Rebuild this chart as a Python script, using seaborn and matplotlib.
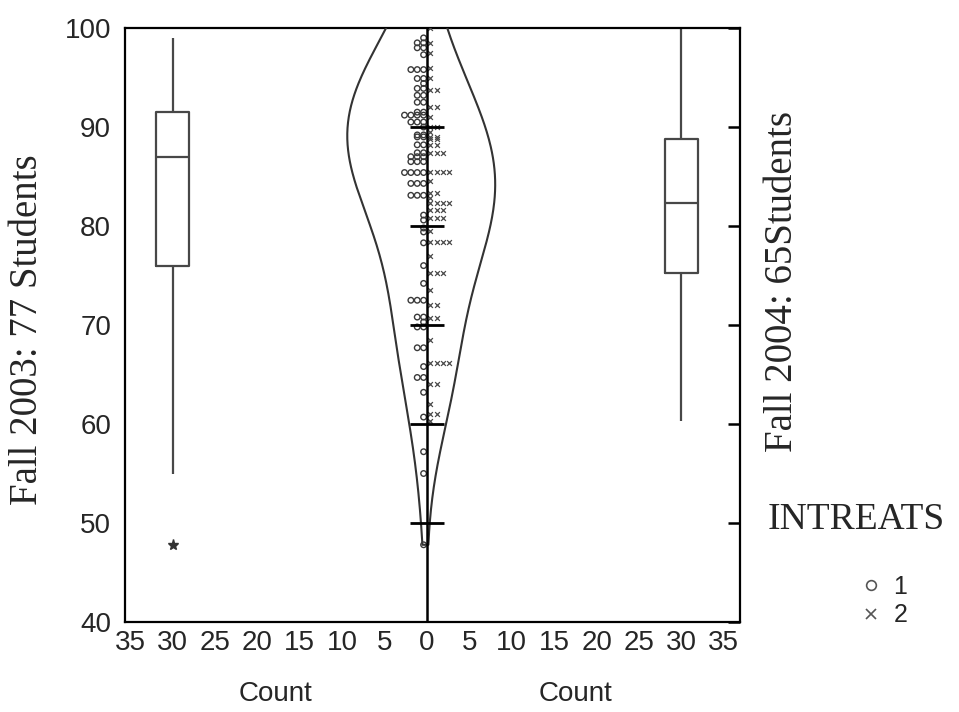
import numpy as np
import pandas as pd
import matplotlib
matplotlib.use("Agg")
import matplotlib.pyplot as plt
import seaborn as sns
from matplotlib.lines import Line2D

# ---------------- data ----------------
# Fall 2003 (INTREATS 1): exam score and number of students at that score
scores_2003 = [99, 98.5, 98, 97.3, 95.8, 94.9, 94.4, 93.9, 93.2, 92.5, 91.5,
               91.2, 90.5, 90, 89.2, 89, 88.2, 87.4, 87,
               86.5, 85.4, 84.3, 83.1, 81.1, 80.6, 79.8, 79.4, 78.3, 76,
               74.2, 72.5, 70.8, 70.3, 69.8, 67.7, 65.8, 64.7, 63.2, 60.7, 57.2, 55, 47.8]
counts_2003 = [1, 2, 2, 1, 3, 2, 1, 2, 2, 2, 2,
               4, 3, 1, 2, 2, 2, 2, 3,
               3, 4, 3, 3, 1, 1, 1, 1, 1, 1,
               1, 3, 2, 1, 2, 2, 1, 2, 1, 1, 1, 1, 1]
# Fall 2004 (INTREATS 2)
scores_2004 = [100, 98.5, 97.5, 96, 95, 93.7, 92, 91, 90, 89.5, 89, 88.8,
               88.2, 87.4, 85.5, 84.5, 83.3, 82.8, 82.3,
               81.6, 80.8, 79.5, 78.4, 77, 75.3,
               73.5, 72, 70.7, 68.5, 66.2, 64, 62, 61, 60.3]
counts_2004 = [1, 1, 1, 1, 1, 2, 2, 1, 2, 1, 2, 2,
               2, 3, 4, 1, 2, 1, 4,
               3, 3, 1, 4, 1, 3,
               1, 2, 2, 1, 4, 2, 1, 2, 1]

terms = ["Fall 2003", "Fall 2004"]
box_positions = [-30, 30]          # where each term's box plot sits on the Count axis
x_ticks = list(range(-35, 36, 5))
y_ticks = [40, 50, 60, 70, 80, 90, 100]
legend_labels = ["1", "2"]

# ---------------- style ----------------
sns.set_style("white")
plt.rcParams["font.family"] = ["Liberation Sans", "DejaVu Sans"]
SANS = 20
SERIF = ["Liberation Serif", "DejaVu Serif"]
GREY = "#474747"
BIN = 3.7          # count-units per unit density*n for the outline
BW_ADJUST = 1.5
DOT0, DOT_STEP = 0.4, 0.75

raw_2003 = np.repeat(scores_2003, counts_2003)
raw_2004 = np.repeat(scores_2004, counts_2004)
df = pd.DataFrame({
    "score": np.concatenate([raw_2003, raw_2004]),
    "pos": [box_positions[0]] * len(raw_2003) + [box_positions[1]] * len(raw_2004),
})

fig = plt.figure(figsize=(9.59, 7.12), dpi=100)
ax = fig.add_axes([125 / 959, 1 - 622 / 712, (740 - 125) / 959, (622 - 28) / 712])

# box plots
sns.boxplot(data=df, x="pos", y="score", native_scale=True, orient="x",
            width=3.8 / 60, fill=False, color=GREY, linewidth=1.6, showcaps=False,
            flierprops=dict(marker="*", markersize=8, markerfacecolor="#333333",
                            markeredgecolor="#333333"), ax=ax)

# density outlines (mirrored: 2003 to the left, 2004 to the right)
def kde(values, grid):
    v = np.asarray(values, dtype=float)
    n = len(v)
    bw = BW_ADJUST * v.std(ddof=1) * n ** (-1 / 5)
    z = (grid[:, None] - v[None, :]) / bw
    return np.exp(-0.5 * z ** 2).sum(1) / (n * bw * np.sqrt(2 * np.pi))

low = min(raw_2003.min(), raw_2004.min())
for raw, side in [(raw_2003, -1), (raw_2004, 1)]:
    grid = np.linspace(low, 104, 300)
    half = kde(raw, grid) * len(raw) * BIN
    xs = np.concatenate([[0], side * half])
    ys = np.concatenate([[low], grid])
    ax.plot(xs, ys, color="#333333", lw=1.5, zorder=3)

# dot strips
lx, ly, rx, ry = [], [], [], []
for s, c in zip(scores_2003, counts_2003):
    for i in range(c):
        lx.append(-(DOT0 + DOT_STEP * i)); ly.append(s)
for s, c in zip(scores_2004, counts_2004):
    for i in range(c):
        rx.append(DOT0 + DOT_STEP * i); ry.append(s)
ax.scatter(lx, ly, marker="o", s=16, facecolors="none", edgecolors="#3a3a3a",
           linewidths=1.0, zorder=4)
ax.scatter(rx, ry, marker="x", s=12, color="#4a4a4a", linewidths=0.9, zorder=4)

# center axis with ticks
ax.axvline(0, color="black", lw=1.8, zorder=5)
ax.hlines(y_ticks[1:-1], -2, 2, color="black", lw=2, zorder=5)

# axes formatting
ax.set_xlim(-35.6, 36.9)
ax.set_ylim(40, 100)
ax.set_xticks(x_ticks)
ax.set_xticklabels([str(abs(t)) for t in x_ticks], fontsize=SANS)
ax.set_yticks(y_ticks)
ax.set_yticklabels([str(t) for t in y_ticks], fontsize=SANS)
ax.set_xlabel("")
ax.set_ylabel("")
for sp in ax.spines.values():
    sp.set_linewidth(1.6)
    sp.set_color("black")
ax.tick_params(axis="both", direction="in", length=9, width=1.8, color="black",
               right=True, top=False, pad=6)
ax.tick_params(axis="y", pad=10)

ax.text(-17.8, -0.1, "Count", transform=ax.get_xaxis_transform(),
        ha="center", va="top", fontsize=SANS)
ax.text(17.5, -0.1, "Count", transform=ax.get_xaxis_transform(),
        ha="center", va="top", fontsize=SANS)

fig.text(28 / 959, 1 - 330 / 712, "Fall 2003: 77 Students", rotation=90,
         ha="center", va="center", fontsize=28, family=SERIF)
fig.text(782 / 959, 1 - 282 / 712, "Fall 2004: 65Students", rotation=90,
         ha="center", va="center", fontsize=28, family=SERIF)
fig.text(768 / 959, 1 - 520 / 712, "INTREATS", ha="left", va="center",
         fontsize=27, family=SERIF)

handles = [Line2D([], [], marker="o", ls="", mfc="none", mec="#555555", ms=7, mew=1.2),
           Line2D([], [], marker="x", ls="", color="#555555", ms=7, mew=1.2)]
fig.legend(handles, legend_labels, loc="upper left",
           bbox_to_anchor=(846 / 959, 1 - 562 / 712), frameon=False,
           prop={"size": 18}, handlelength=1.0, handletextpad=0.4,
           labelspacing=0.2, borderpad=0)

fig.savefig("out.png", dpi=100)
